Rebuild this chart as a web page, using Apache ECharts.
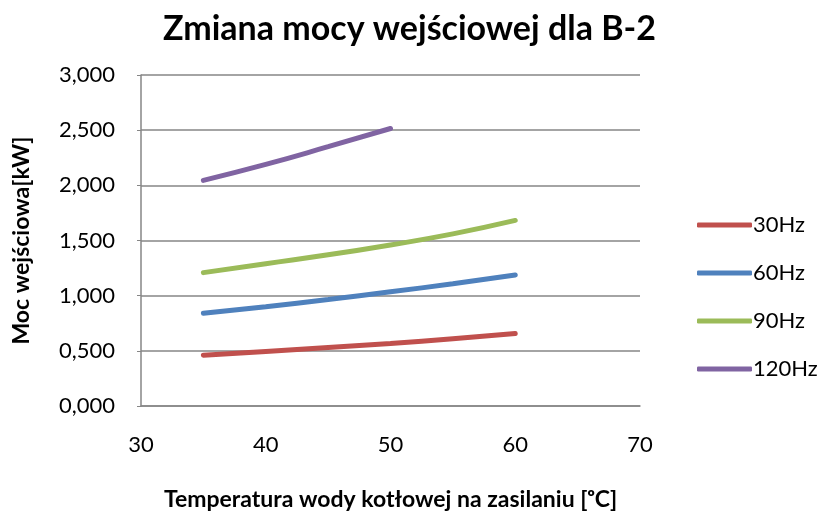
<!DOCTYPE html>
<html>
<head>
<meta charset="utf-8">
<script src="https://cdn.jsdelivr.net/npm/echarts@6/dist/echarts.min.js"></script>
<style>
	html, body { margin: 0; padding: 0; background: #fff; }
	#chart { width: 819px; height: 517px; }
</style>
</head>
<body>
<div id="chart"></div>
<script>
// temperatura [°C]
const temps = [35, 40, 45, 50, 55, 60];
const temps120 = [35, 40, 45, 50];
// moc wejściowa [kW]
const hz30 = [0.461, 0.495, 0.530, 0.567, 0.610, 0.658];
const hz60 = [0.840, 0.900, 0.965, 1.035, 1.108, 1.188];
const hz90 = [1.209, 1.290, 1.370, 1.460, 1.560, 1.682];
const hz120 = [2.045, 2.190, 2.350, 2.515];
const seriesNames = ["30Hz", "60Hz", "90Hz", "120Hz"];
const colors = ["#C0504D", "#4F81BD", "#9BBB59", "#8064A2"];

const font = "Lato, 'Open Sans', sans-serif";
const pairs = (xs, ys) => xs.map((x, i) => [x, ys[i]]);
const lines = [pairs(temps, hz30), pairs(temps, hz60), pairs(temps, hz90), pairs(temps120, hz120)];

const chart = echarts.init(document.getElementById("chart"));
chart.setOption({
	animation: false,
	color: colors,
	title: {
		text: "Zmiana mocy wejściowej dla B-2",
		left: "center",
		top: 7,
		textStyle: { fontFamily: font, fontSize: 34, fontWeight: "bold", color: "#000" }
	},
	legend: {
		orient: "vertical",
		left: 692,
		top: 209,
		icon: "roundRect",
		itemWidth: 55,
		itemHeight: 5,
		itemGap: 26,
		textStyle: { fontFamily: font, fontSize: 22, color: "#000", padding: [0, 0, 0, -4] },
		data: seriesNames
	},
	grid: { left: 141, top: 75, right: 179, bottom: 111, outerBoundsMode: "none" },
	xAxis: {
		type: "value",
		min: 30,
		max: 70,
		interval: 10,
		name: "Temperatura wody kotłowej na zasilaniu [\u1D52C]",
		nameLocation: "middle",
		nameGap: 82,
		nameTextStyle: { fontFamily: font, fontSize: 23, fontWeight: "bold", color: "#000" },
		axisLine: { lineStyle: { color: "#868686", width: 1.5 } },
		axisTick: { show: false },
		splitLine: { show: false },
		axisLabel: { fontFamily: font, fontSize: 22, color: "#000", margin: 28 }
	},
	yAxis: {
		type: "value",
		min: 0,
		max: 3,
		interval: 0.5,
		name: "Moc wejściowa[kW]",
		nameLocation: "middle",
		nameGap: 108,
		nameTextStyle: { fontFamily: font, fontSize: 23, fontWeight: "bold", color: "#000" },
		axisLine: { show: true, lineStyle: { color: "#868686", width: 1.5 } },
		axisTick: { show: true, length: 4, lineStyle: { color: "#868686" } },
		splitLine: { lineStyle: { color: "#868686", width: 1.5 } },
		axisLabel: {
			fontFamily: font, fontSize: 22, color: "#000", margin: 26,
			formatter: v => v.toFixed(3).replace(".", ",")
		}
	},
	series: lines.map((d, i) => ({
		name: seriesNames[i],
		type: "line",
		smooth: true,
		showSymbol: false,
		symbol: "none",
		lineStyle: { width: 5, cap: "round" },
		data: d
	}))
});
</script>
</body>
</html>
